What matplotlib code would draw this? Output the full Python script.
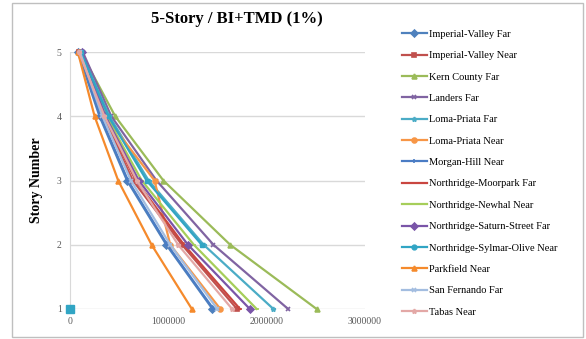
import matplotlib
matplotlib.use('Agg')
import matplotlib.pyplot as plt
from matplotlib.patches import Rectangle

# story levels and peak response per record
stories = [1, 2, 3, 4, 5]

names = ['Imperial-Valley Far', 'Imperial-Valley Near', 'Kern County Far',
         'Landers Far', 'Loma-Priata Far', 'Loma-Priata Near',
         'Morgan-Hill Near', 'Northridge-Moorpark Far', 'Northridge-Newhal Near',
         'Northridge-Saturn-Street Far', 'Northridge-Sylmar-Olive Near',
         'Parkfield Near', 'San Fernando Far', 'Tabas Near']

imperial_far = [1450000, 980000, 580000, 300000, 80000]
imperial_near = [1700000, 1140000, 640000, 330000, 90000]
kern_far = [2510000, 1630000, 950000, 460000, 110000]
landers_far = [2220000, 1460000, 880000, 420000, 130000]
loma_far = [2070000, 1360000, 800000, 400000, 110000]
loma_near = [1530000, 1020000, 860000, 360000, 100000]
morgan_near = [1460000, 990000, 590000, 310000, 90000]
moorpark_far = [1730000, 1160000, 670000, 340000, 100000]
newhal_near = [1900000, 1260000, 730000, 370000, 100000]
saturn_far = [1830000, 1200000, 700000, 360000, 120000]
sylmar_near = [0, 1340000, 780000, 390000, 110000]
parkfield_near = [1240000, 830000, 490000, 250000, 80000]
sanfernando_far = [1500000, 1020000, 620000, 330000, 100000]
tabas_near = [1650000, 1100000, 680000, 350000, 90000]

series = [imperial_far, imperial_near, kern_far, landers_far, loma_far,
          loma_near, morgan_near, moorpark_far, newhal_near, saturn_far,
          sylmar_near, parkfield_near, sanfernando_far, tabas_near]

colors = ['#4F81BD', '#C0504D', '#9BBB59', '#8064A2', '#4BACC6', '#F79646',
          '#4A7CC4', '#C94640', '#A6CE5A', '#7A55A8', '#31A5C4', '#F58A2C',
          '#A3BDE0', '#E3A8A6']
markers = ['D', 's', '^', 'x', '*', 'o', '+', '_', '_', 'D', 's', '^', 'x', '*']

plt.rcParams['font.family'] = 'Liberation Serif'

fig = plt.figure(figsize=(5.86, 3.39), dpi=100)
ax = fig.add_axes([0.1195, 0.0885, 0.503, 0.758])

for i in range(len(series)):
    xs = series[i]
    ys = stories
    if xs[0] == 0:
        # first value missing -> marker only at zero, no line to it
        ax.plot(xs[1:], ys[1:], color=colors[i], lw=1.6, marker=markers[i],
                ms=3.5, clip_on=False, zorder=3)
        ax.plot([xs[0]], [ys[0]], color=colors[i], marker='s', ms=6,
                ls='none', clip_on=False, zorder=3)
        ax.plot([], [], color=colors[i], lw=1.6, marker='o', ms=3.5,
                label=names[i])
    else:
        ax.plot(xs, ys, color=colors[i], lw=1.6, marker=markers[i], ms=3.5,
                mew=1.2, clip_on=False, zorder=3, label=names[i])

ax.set_xlim(0, 3000000)
ax.set_ylim(1, 5)
ax.set_xticks([0, 1000000, 2000000, 3000000])
ax.set_xticklabels(['0', '1000000', '2000000', '3000000'])
ax.set_yticks([1, 2, 3, 4, 5])
ax.tick_params(length=0, labelsize=7, colors='#595959', pad=6)
ax.yaxis.grid(True, color='#d9d9d9', lw=1)
ax.set_axisbelow(True)
for s in ['top', 'right', 'bottom']:
    ax.spines[s].set_visible(False)
ax.spines['left'].set_color('#d9d9d9')

ax.set_ylabel('Story Number', fontsize=10, fontweight='bold', labelpad=10)
fig.text(0.405, 0.945, '5-Story / BI+TMD (1%)', fontsize=12,
         fontweight='bold', ha='center', va='center')

fig.legend(loc='upper left', bbox_to_anchor=(0.686, 0.913), frameon=False,
           fontsize=7.5, labelspacing=1.16, handlelength=2.4, handletextpad=0.2,
           borderaxespad=0, borderpad=0)

fig.patches.append(Rectangle((0.02, 0.005), 0.975, 0.985,
                             transform=fig.transFigure, fill=False,
                             edgecolor='#bfbfbf', lw=1))

plt.savefig('out.png', dpi=100)
